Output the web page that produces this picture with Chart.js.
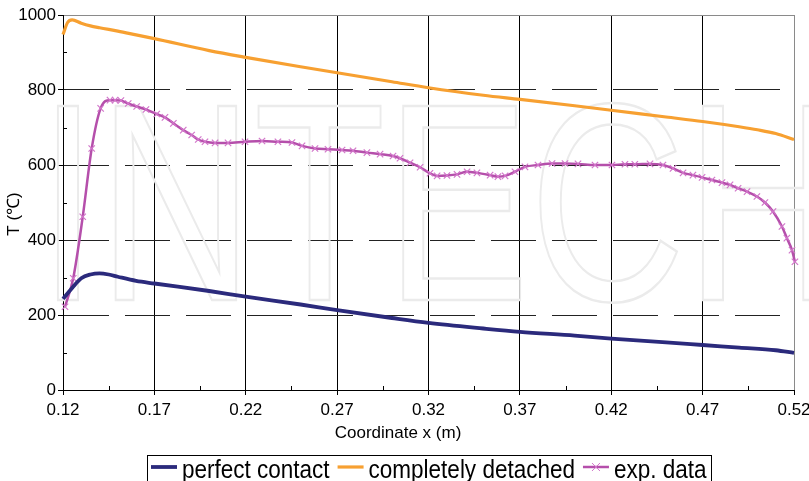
<!DOCTYPE html>
<html>
<head>
<meta charset="utf-8">
<script src="https://cdn.jsdelivr.net/npm/chart.js@4"></script>
<style>
    html, body { margin: 0; padding: 0; background: #fff; }
    canvas { display: block; }
</style>
</head>
<body>
<canvas id="tempChart" width="809" height="481"></canvas>
<script>
const SERIES_NAMES = ['perfect contact', 'completely detached', 'exp. data'];
const X_TITLE = 'Coordinate x (m)';
const Y_TITLE = 'T (\u2103)';

const xTicks = [0.12, 0.17, 0.22, 0.27, 0.32, 0.37, 0.42, 0.47, 0.52];
const xTickLabels = ['0.12', '0.17', '0.22', '0.27', '0.32', '0.37', '0.42', '0.47', '0.52'];
const yTicks = [0, 200, 400, 600, 800, 1000];
const yTickLabels = ['0', '200', '400', '600', '800', '1000'];

// perfect contact
const contactX = [0.12, 0.125, 0.13, 0.135, 0.14, 0.145, 0.15, 0.16, 0.17, 0.20, 0.22, 0.25,
    0.27, 0.30, 0.32, 0.35, 0.37, 0.40, 0.42, 0.45, 0.47, 0.49, 0.51, 0.52];
const contactT = [243, 272, 298, 308, 311, 308, 302, 291, 284, 264, 249, 228,
    213, 192, 179, 164, 155, 145, 137, 127, 120, 113, 106, 99];

// completely detached
const detachedX = [0.12, 0.1225, 0.125, 0.13, 0.135, 0.14, 0.15, 0.16, 0.17, 0.20, 0.22, 0.25,
    0.27, 0.30, 0.32, 0.35, 0.37, 0.40, 0.42, 0.45, 0.47, 0.49, 0.50, 0.51, 0.52];
const detachedT = [948, 980, 987, 978, 971, 966, 957, 947, 937, 905, 887, 862,
    846, 822, 806, 786, 775, 758, 746, 728, 716, 702, 694, 684, 668];

// exp. data
const expX = [0.1211, 0.1256, 0.1308, 0.1357, 0.1406, 0.1457, 0.1485, 0.1517, 0.1557, 0.1603,
    0.1654, 0.1713, 0.1758, 0.1804, 0.1858, 0.1904, 0.1940, 0.1977, 0.2032, 0.2103,
    0.2196, 0.2289, 0.2376, 0.2453, 0.2508, 0.2579, 0.2650, 0.2727, 0.2787, 0.2863,
    0.2935, 0.3006, 0.3044, 0.3099, 0.3154, 0.3208, 0.3247, 0.3301, 0.3356, 0.3411,
    0.3465, 0.3537, 0.3580, 0.3619, 0.3673, 0.3728, 0.3799, 0.3876, 0.3947, 0.4018,
    0.4111, 0.4204, 0.4275, 0.4329, 0.4412, 0.4483, 0.4538, 0.4593, 0.4647, 0.4697,
    0.4751, 0.4806, 0.4850, 0.4894, 0.4943, 0.4997, 0.5041, 0.5085, 0.5134, 0.5161,
    0.5189, 0.5205];
const expT = [222, 298, 462, 644, 751, 773, 773, 772, 764, 756,
    748, 736, 727, 711, 693, 680, 668, 662, 659, 659,
    662, 664, 662, 660, 651, 644, 642, 640, 638, 633,
    629, 624, 618, 606, 594, 578, 571, 572, 575, 582,
    579, 573, 569, 571, 582, 595, 600, 604, 604, 603,
    600, 600, 602, 602, 603, 600, 591, 579, 573, 567,
    560, 553, 547, 538, 529, 516, 500, 476, 436, 405,
    373, 342];

const FONT = '"Liberation Sans", Arial, Helvetica, sans-serif';
const NARROW_NAME = 'Liberation Sans Narrow';

function fontAvailable(family) {
    const c = document.createElement('canvas').getContext('2d');
    const probe = 'abcdefghijklmnopqrstuvwxyz0123456789';
    c.font = '40px monospace';
    const a = c.measureText(probe).width;
    c.font = '40px "' + family + '", monospace';
    const b = c.measureText(probe).width;
    return a !== b;
}

// the original uses a condensed face; fall back to a squeezed regular one
const HAS_NARROW = fontAvailable(NARROW_NAME);
const TEXT_FONT = HAS_NARROW ? '"' + NARROW_NAME + '", ' + FONT : FONT;
const TICK_SIZE = HAS_NARROW ? 20 : 17;
const LEGEND_SIZE = HAS_NARROW ? 27 : 25;
const LEGEND_SQUEEZE = HAS_NARROW ? 1 : 0.9;

function toPoints(xs, ys) {
    return xs.map((x, i) => ({ x, y: ys[i] }));
}

function isFrameTick(ctx) {
    return !ctx.tick || ctx.tick.value === 0 || ctx.tick.value === 1000;
}

const decorPlugin = {
    id: 'decor',
    beforeDatasetsDraw(chart) {
        // faint publisher watermark
        const { ctx } = chart;
        ctx.save();
        ctx.translate(38, 300);
        ctx.scale(0.765, 1);
        ctx.font = '282px ' + FONT;
        ctx.strokeStyle = '#ebebeb';
        ctx.lineWidth = 2.5;
        ctx.strokeText('INTECH', 0, 0);
        ctx.restore();
    },
    afterDraw(chart) {
        const { ctx, chartArea, scales } = chart;
        ctx.save();

        // minor ticks, inside the plot
        ctx.strokeStyle = '#000';
        ctx.lineWidth = 1;
        ctx.beginPath();
        for (let i = 0; i < xTicks.length - 1; i++) {
            const px = Math.round(scales.x.getPixelForValue((xTicks[i] + xTicks[i + 1]) / 2)) + 0.5;
            ctx.moveTo(px, chartArea.bottom);
            ctx.lineTo(px, chartArea.bottom - 4);
        }
        for (let i = 0; i < yTicks.length - 1; i++) {
            const py = Math.round(scales.y.getPixelForValue((yTicks[i] + yTicks[i + 1]) / 2)) + 0.5;
            ctx.moveTo(chartArea.left, py);
            ctx.lineTo(chartArea.left + 4, py);
        }
        ctx.stroke();

        // axis titles
        ctx.fillStyle = '#000';
        ctx.font = TICK_SIZE + 'px ' + TEXT_FONT;
        ctx.textAlign = 'center';
        ctx.textBaseline = 'middle';
        ctx.fillText(X_TITLE, 398, 433);
        ctx.save();
        ctx.translate(14, 214);
        ctx.rotate(-Math.PI / 2);
        ctx.fillText(Y_TITLE, 0, 0);
        ctx.restore();

        // legend
        ctx.font = LEGEND_SIZE + 'px ' + TEXT_FONT;
        const sample = 26, gap = 5, spacing = 8, pad = 4;
        const widths = SERIES_NAMES.map(name => ctx.measureText(name).width * LEGEND_SQUEEZE);
        const total = widths.reduce((s, w) => s + sample + gap + w, 0) + spacing * (widths.length - 1) + pad * 2;
        const center = (chartArea.left + chartArea.right) / 2;
        let x = Math.round(center - total / 2);
        const top = 455, lineY = 467, baseY = 478;
        ctx.strokeStyle = '#000';
        ctx.lineWidth = 1;
        ctx.strokeRect(x + 0.5, top + 0.5, Math.round(total), 40);
        x += pad;
        ctx.textAlign = 'left';
        ctx.textBaseline = 'alphabetic';
        chart.data.datasets.forEach((ds, i) => {
            ctx.strokeStyle = ds.borderColor;
            ctx.lineWidth = ds.borderWidth;
            ctx.beginPath();
            ctx.moveTo(x, lineY);
            ctx.lineTo(x + sample, lineY);
            ctx.stroke();
            if (ds.pointRadius > 0) {
                const cx = x + sample / 2, r = 4;
                ctx.strokeStyle = ds.pointBorderColor;
                ctx.lineWidth = 1;
                ctx.beginPath();
                ctx.moveTo(cx - r, lineY - r); ctx.lineTo(cx + r, lineY + r);
                ctx.moveTo(cx - r, lineY + r); ctx.lineTo(cx + r, lineY - r);
                ctx.stroke();
            }
            x += sample + gap;
            ctx.save();
            ctx.translate(x, baseY);
            ctx.scale(LEGEND_SQUEEZE, 1);
            ctx.fillStyle = '#000';
            ctx.fillText(SERIES_NAMES[i], 0, 0);
            ctx.restore();
            x += widths[i] + spacing;
        });
        ctx.restore();
    }
};

const canvas = document.getElementById('tempChart');

new Chart(canvas, {
    type: 'line',
    data: {
        datasets: [
            {
                label: SERIES_NAMES[0],
                data: toPoints(contactX, contactT),
                borderColor: '#2b2a7c',
                borderWidth: 3.8,
                pointRadius: 0,
                cubicInterpolationMode: 'monotone'
            },
            {
                label: SERIES_NAMES[1],
                data: toPoints(detachedX, detachedT),
                borderColor: '#f7a031',
                borderWidth: 3.2,
                pointRadius: 0,
                cubicInterpolationMode: 'monotone'
            },
            {
                label: SERIES_NAMES[2],
                data: toPoints(expX, expT),
                borderColor: '#b54fab',
                borderWidth: 2.5,
                pointStyle: 'crossRot',
                pointRadius: 4.5,
                pointBorderWidth: 1.2,
                pointBorderColor: '#d276ca',
                pointBackgroundColor: '#d276ca',
                cubicInterpolationMode: 'monotone'
            }
        ]
    },
    options: {
        responsive: false,
        animation: false,
        events: [],
        clip: false,
        layout: {
            padding: { top: 15, left: 0, right: 15, bottom: 0 }
        },
        scales: {
            x: {
                type: 'linear',
                min: 0.12,
                max: 0.52,
                afterBuildTicks: scale => {
                    scale.ticks = xTicks.map(value => ({ value }));
                },
                afterFit: scale => {
                    scale.height = 91;
                    scale.paddingLeft = 0;
                    scale.paddingRight = 0;
                },
                ticks: {
                    padding: 5,
                    color: '#000',
                    font: { family: TEXT_FONT, size: TICK_SIZE },
                    callback: (value, index) => xTickLabels[index]
                },
                grid: {
                    color: ctx => (ctx.index === xTicks.length - 1 ? '#8a8a8a' : '#000'),
                    lineWidth: 1,
                    tickLength: 5,
                    tickColor: '#000'
                },
                border: { color: '#000', width: 1 }
            },
            y: {
                min: 0,
                max: 1000,
                afterBuildTicks: scale => {
                    scale.ticks = yTicks.map(value => ({ value }));
                },
                afterFit: scale => {
                    scale.width = 63;
                },
                ticks: {
                    padding: 2,
                    color: '#000',
                    font: { family: TEXT_FONT, size: TICK_SIZE },
                    callback: (value, index) => yTickLabels[index]
                },
                grid: {
                    color: ctx => (ctx.tick && ctx.tick.value === 1000 ? '#8a8a8a' : '#222'),
                    lineWidth: 1,
                    tickLength: 5,
                    tickColor: '#000'
                },
                border: {
                    color: '#000',
                    width: 1,
                    dash: ctx => (isFrameTick(ctx) ? [] : [45, 16])
                }
            }
        },
        plugins: {
            legend: { display: false },
            tooltip: { enabled: false }
        }
    },
    plugins: [decorPlugin]
});
</script>
</body>
</html>
